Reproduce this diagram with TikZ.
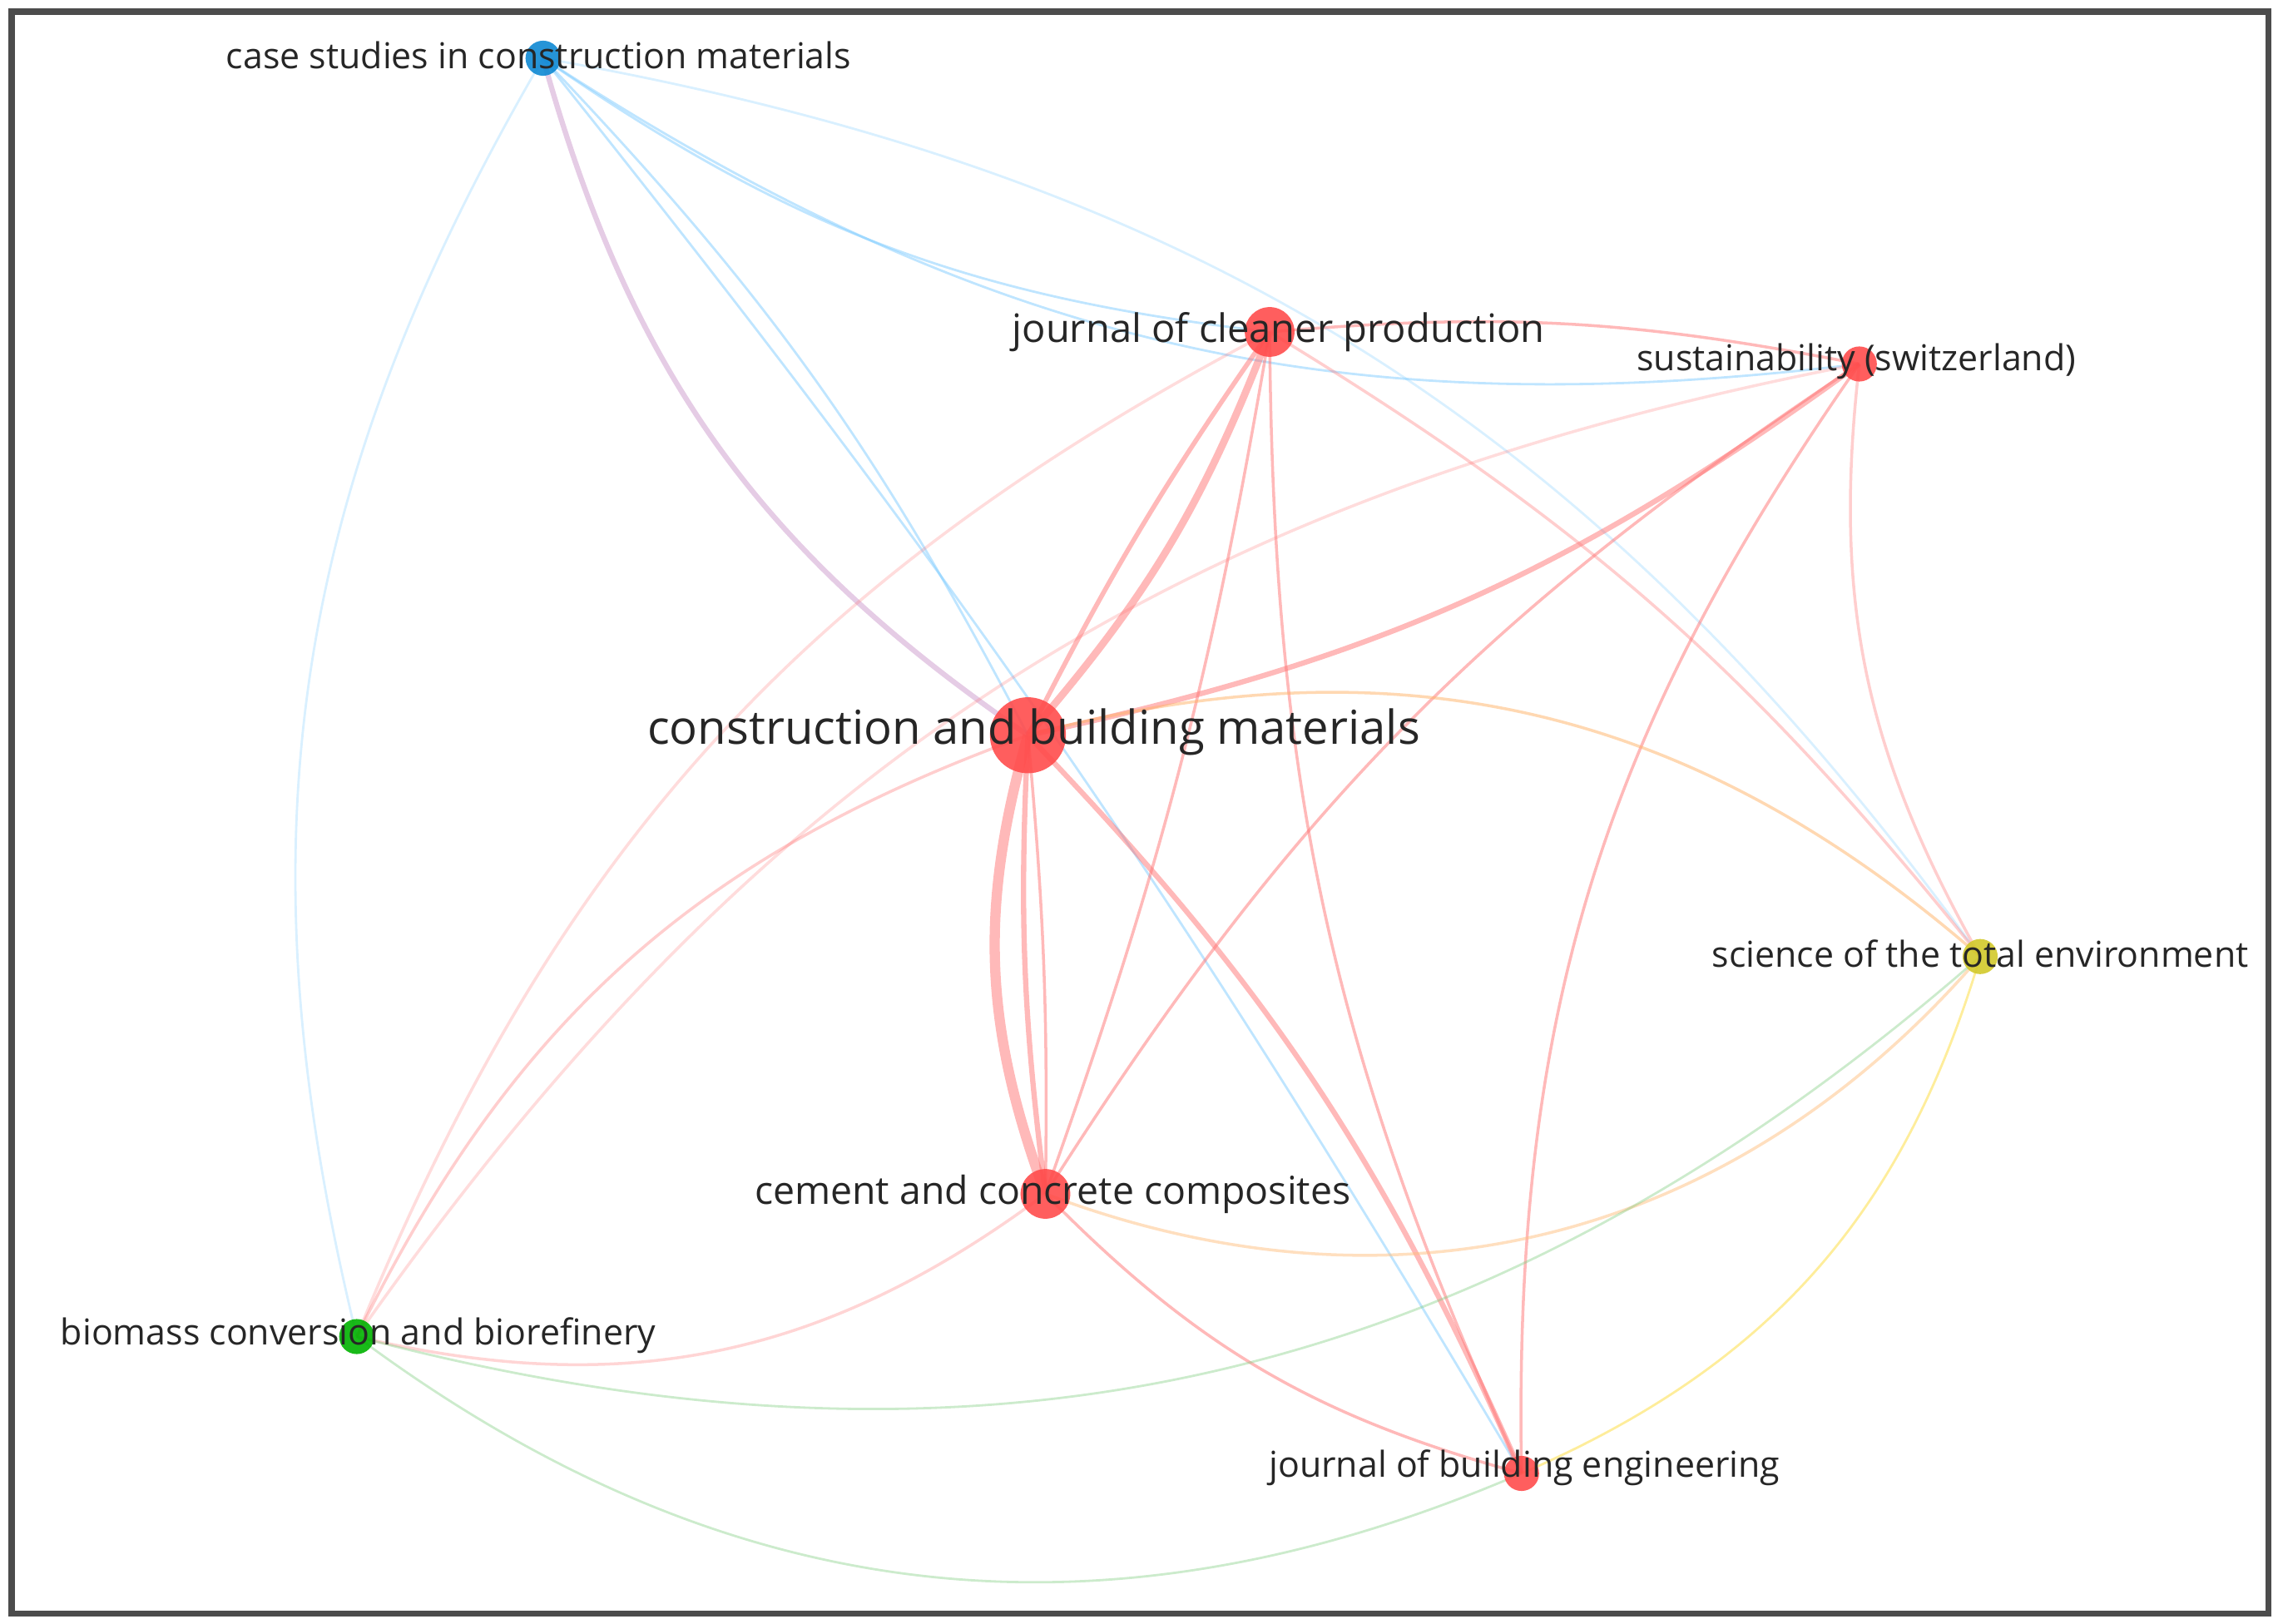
\documentclass[tikz,border=0pt]{standalone}
\usepackage{fontspec}
\setmainfont{Open Sans}
\begin{document}
\begin{tikzpicture}[x=0.0175cm,y=-0.0175cm,
 nd/.style={circle,inner sep=0pt,draw=none,opacity=0.9},
 lb/.style={text=black!85,inner sep=0pt},
 re/.style={draw=red!55,opacity=0.5,line width=1pt},
 bl/.style={draw=blue!40!cyan!50,opacity=0.5,line width=0.8pt},
 gr/.style={draw=green!60!black!50,opacity=0.4,line width=0.8pt},
 ye/.style={draw=yellow!70!orange,opacity=0.5,line width=0.8pt}]
\useasboundingbox (0,0) rectangle (1568,1115);
\draw[line width=2pt,black!70] (8,8) rectangle (1558,1108);
\coordinate (case) at (373,40);
\coordinate (jcp) at (872,228);
\coordinate (sust) at (1277,250);
\coordinate (cbm) at (706,505);
\coordinate (sci) at (1360,657);
\coordinate (cem) at (718,820);
\coordinate (bio) at (245,918);
\coordinate (jbe) at (1045,1012);
% edges
\draw[bl,line width=1.8pt,draw=violet!40] (case) to[bend right=20] (cbm);
\draw[bl] (case) to[bend left=8] (cbm);
\draw[bl] (case) to[bend right=14] (jcp);
\draw[bl] (case) to[bend right=20] (sust);
\draw[bl] (case) to[bend left=4] (jbe);
\draw[bl,opacity=0.3] (case) to[bend left=22] (sci);
\draw[bl,opacity=0.3] (case) to[bend right=22] (bio);
\draw[re,line width=2.5pt] (jcp) to[bend left=10] (cbm);
\draw[re,line width=1.6pt] (jcp) to[bend right=4] (cbm);
\draw[re] (jcp) to[bend left=8] (sust);
\draw[re] (jcp) to[bend left=5] (cem);
\draw[re] (jcp) to[bend right=12] (jbe);
\draw[re,opacity=0.35] (jcp) to[bend left=10] (sci);
\draw[re,opacity=0.25] (jcp) to[bend right=20] (bio);
\draw[re,line width=1.8pt] (sust) to[bend left=12] (cbm);
\draw[re] (sust) to[bend right=12] (cem);
\draw[re] (sust) to[bend right=18] (jbe);
\draw[re,opacity=0.35] (sust) to[bend right=18] (sci);
\draw[re,opacity=0.25] (sust) to[bend right=22] (bio);
\draw[re,line width=3.5pt] (cbm) to[bend right=18] (cem);
\draw[re,line width=1.8pt] (cbm) to[bend right=5] (cem);
\draw[re] (cbm) to[bend left=3] (cem);
\draw[re,line width=1.8pt] (cbm) to[bend left=10] (jbe);
\draw[re,draw=orange!60] (cbm) to[bend left=28] (sci);
\draw[re,opacity=0.35] (cbm) to[bend right=22] (bio);
\draw[re,draw=orange!50] (cem) to[bend right=35] (sci);
\draw[re] (cem) to[bend right=15] (jbe);
\draw[re,opacity=0.3] (cem) to[bend left=25] (bio);
\draw[gr] (bio) to[bend right=28] (sci);
\draw[gr] (bio) to[bend right=30] (jbe);
\draw[ye,opacity=0.4] (sci) to[bend left=25] (jbe);
% nodes
\node[nd,fill=cyan!70!blue,minimum size=12pt] (ncase) at (case) {};
\node[nd,fill=red!70,minimum size=17pt] (njcp) at (jcp) {};
\node[nd,fill=red!70,minimum size=12pt] (nsust) at (sust) {};
\node[nd,fill=red!70,minimum size=26pt] (ncbm) at (cbm) {};
\node[nd,fill=yellow!80!black,minimum size=12pt] (nsci) at (sci) {};
\node[nd,fill=red!70,minimum size=17pt] (ncem) at (cem) {};
\node[nd,fill=green!70!black,minimum size=12pt] (nbio) at (bio) {};
\node[nd,fill=red!70,minimum size=12pt] (njbe) at (jbe) {};
% labels
\node[lb,font=\fontsize{12.2}{14}\selectfont] (l1) at (370,38) {case studies in construction materials};
\node[lb,font=\fontsize{13.4}{15}\selectfont] (l2) at (878,228) {journal of cleaner production};
\node[lb,font=\fontsize{12.2}{14}\selectfont] (l3) at (1275,248) {sustainability (switzerland)};
\node[lb,font=\fontsize{16}{18}\selectfont] (l4) at (710,503) {construction and building materials};
\node[lb,font=\fontsize{12.2}{14}\selectfont] (l5) at (1360,655) {science of the total environment};
\node[lb,font=\fontsize{13.2}{15}\selectfont] (l6) at (723,820) {cement and concrete composites};
\node[lb,font=\fontsize{12.2}{14}\selectfont] (l7) at (246,917) {biomass conversion and biorefinery};
\node[lb,font=\fontsize{12.2}{14}\selectfont] (l8) at (1047,1008) {journal of building engineering};
\end{tikzpicture}
\end{document}
